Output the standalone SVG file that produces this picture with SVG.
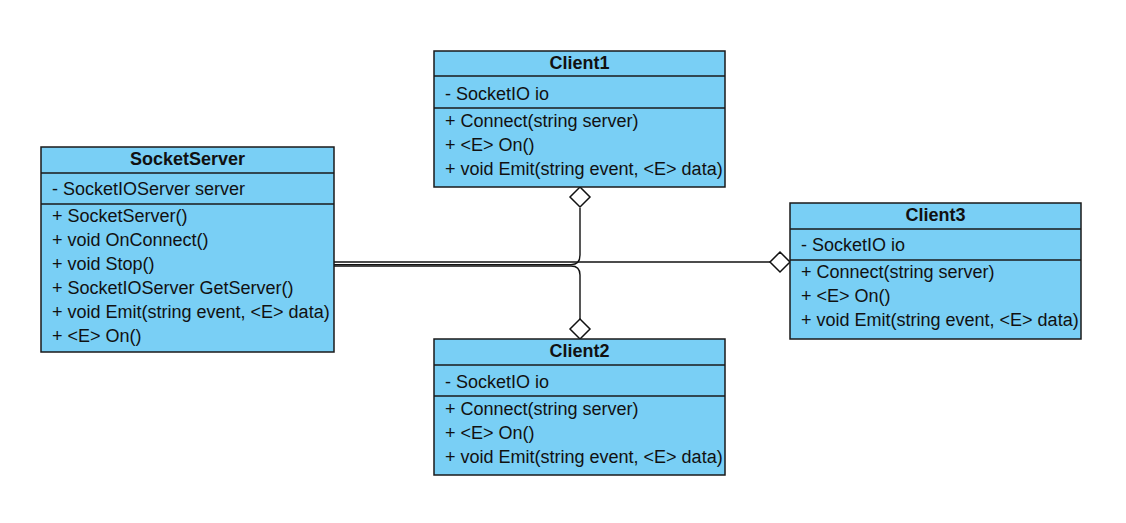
<svg xmlns="http://www.w3.org/2000/svg" width="1126" height="523" viewBox="0 0 1126 523">
<style>
.box{fill:#79CFF5;stroke:#1a1a1a;stroke-width:1.5}
.sep{stroke:#1a1a1a;stroke-width:1.5}
.t{font-family:"Liberation Sans",Arial,sans-serif;font-size:18px;fill:#111}
.h{font-family:"Liberation Sans",Arial,sans-serif;font-size:18px;font-weight:bold;fill:#111;text-anchor:middle}
.c{fill:none;stroke:#111;stroke-width:1.4}
.d{fill:#fff;stroke:#111;stroke-width:1.5}
</style>
<rect width="1126" height="523" fill="#fff"/>
<g id="connectors">
<path class="c" d="M334,262 H770"/>
<path class="c" d="M334,264.6 H571 Q580,264.6 580,255 V208"/>
<path class="c" d="M334,266 H571 Q580,266 580,275 V319"/>
<path class="d" d="M580,187 L590,197 L580,207 L570,197 Z"/>
<path class="d" d="M580,339 L590,329 L580,319 L570,329 Z"/>
<path class="d" d="M790,262 L780,252 L770,262 L780,272 Z"/>
</g>
<g id="SocketServer">
<rect class="box" x="41" y="147" width="293" height="205"/>
<line class="sep" x1="41" y1="173" x2="334" y2="173"/>
<line class="sep" x1="41" y1="204" x2="334" y2="204"/>
<text class="h" x="187.5" y="165">SocketServer</text>
<text class="t" x="52" y="195">- SocketIOServer server</text>
<text class="t" x="52" y="222">+ SocketServer()</text>
<text class="t" x="52" y="246">+ void OnConnect()</text>
<text class="t" x="52" y="270">+ void Stop()</text>
<text class="t" x="52" y="294">+ SocketIOServer GetServer()</text>
<text class="t" x="52" y="318">+ void Emit(string event, &lt;E&gt; data)</text>
<text class="t" x="52" y="342">+ &lt;E&gt; On()</text>
</g>
<g id="Client1">
<rect class="box" x="434" y="51" width="291" height="136"/>
<line class="sep" x1="434" y1="76" x2="725" y2="76"/>
<line class="sep" x1="434" y1="108" x2="725" y2="108"/>
<text class="h" x="579.5" y="69">Client1</text>
<text class="t" x="445" y="100">- SocketIO io</text>
<text class="t" x="445" y="127">+ Connect(string server)</text>
<text class="t" x="445" y="151">+ &lt;E&gt; On()</text>
<text class="t" x="445" y="175">+ void Emit(string event, &lt;E&gt; data)</text>
</g>
<g id="Client2">
<rect class="box" x="434" y="339" width="291" height="136"/>
<line class="sep" x1="434" y1="365" x2="725" y2="365"/>
<line class="sep" x1="434" y1="396" x2="725" y2="396"/>
<text class="h" x="579.5" y="357">Client2</text>
<text class="t" x="445" y="388">- SocketIO io</text>
<text class="t" x="445" y="415">+ Connect(string server)</text>
<text class="t" x="445" y="439">+ &lt;E&gt; On()</text>
<text class="t" x="445" y="463">+ void Emit(string event, &lt;E&gt; data)</text>
</g>
<g id="Client3">
<rect class="box" x="790" y="203" width="291" height="136"/>
<line class="sep" x1="790" y1="229" x2="1081" y2="229"/>
<line class="sep" x1="790" y1="260" x2="1081" y2="260"/>
<text class="h" x="935.5" y="221">Client3</text>
<text class="t" x="801" y="251">- SocketIO io</text>
<text class="t" x="801" y="278">+ Connect(string server)</text>
<text class="t" x="801" y="302">+ &lt;E&gt; On()</text>
<text class="t" x="801" y="326">+ void Emit(string event, &lt;E&gt; data)</text>
</g>
</svg>
